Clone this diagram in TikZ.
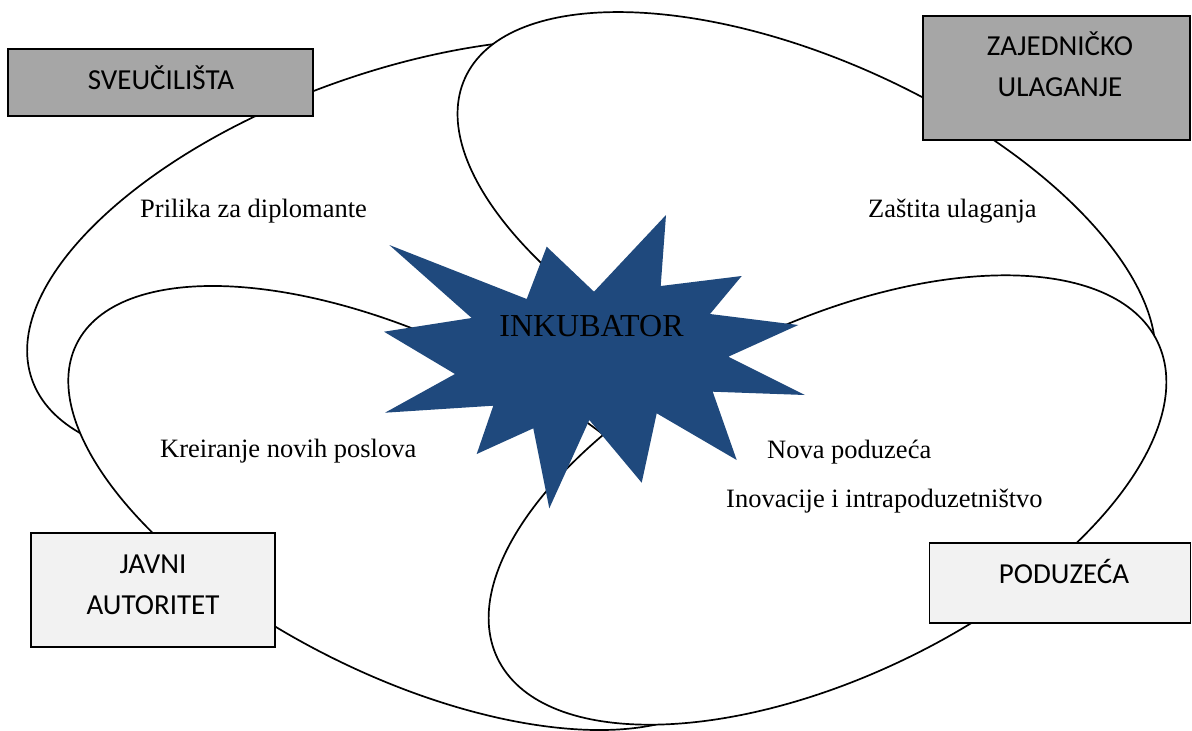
\documentclass[tikz,border=0pt]{standalone}
\usepackage{fontspec}
\setmainfont{Liberation Serif}
\newfontfamily\boxfont{Carlito}
\definecolor{starblue}{RGB}{31,73,125}
\definecolor{darkgraybox}{RGB}{166,166,166}
\definecolor{lightgraybox}{RGB}{242,242,242}
\begin{document}
\begin{tikzpicture}[x=1pt,y=-1pt,
  petal/.style={draw=black, line width=1.7pt, fill=white},
  boxnode/.style={draw=black, line width=1.7pt, inner sep=0pt},
  boxtext/.style={font=\boxfont\fontsize{29}{35}\selectfont, inner sep=0pt, anchor=base},
  lbl/.style={font=\fontsize{26.5}{32}\selectfont, inner sep=0pt, anchor=base west},
  startext/.style={font=\fontsize{32}{38}\selectfont, inner sep=0pt, anchor=base}]
\useasboundingbox (0,0) rectangle (1192,731);
\clip (0,0) rectangle (1192,731);
\fill[white] (0,0) rectangle (1192,731);
% petals (bottom to top)
\path[petal, rotate around={19.4:(397,251)}] (397,251) ellipse [x radius=387pt, y radius=179pt];
\path[petal, rotate around={-24.4:(806.5,233)}] (806.5,233) ellipse [x radius=375pt, y radius=173pt];
\path[petal, rotate around={-26.5:(406,508)}] (406,508) ellipse [x radius=368pt, y radius=167pt];
\path[petal, rotate around={25.6:(827.5,500)}] (827.5,500) ellipse [x radius=366pt, y radius=177pt];
% star
\fill[starblue] (666,215) -- (660.7,286) -- (741.7,276) -- (710,314) -- (798.3,325)
  -- (728.3,356.7) -- (805,395) -- (712.7,391.7) -- (736.7,460) -- (656.7,413.3)
  -- (641.7,482.7) -- (589.3,420) -- (549.3,508.3) -- (533.3,428.3) -- (476.7,454)
  -- (493.3,405.7) -- (385,412.7) -- (455,374) -- (384,331.7) -- (471.7,318)
  -- (389.3,245) -- (526.7,299) -- (546.7,246.7) -- (594,291.7) -- cycle;
\node[startext] (ink) at (591.5,336) {INKUBATOR};
% boxes
\node[boxnode, fill=darkgraybox, minimum width=305pt, minimum height=67pt] (sveu) at (160.5,82.5) {};
\node[boxtext] (sveutxt) at (161,89) {SVEUČILIŠTA};
\node[boxnode, fill=darkgraybox, minimum width=267pt, minimum height=124pt] (zaj) at (1056.5,78) {};
\node[boxtext] (zaj1) at (1060,55) {ZAJEDNIČKO};
\node[boxtext] (zaj2) at (1060,96) {ULAGANJE};
\node[boxnode, fill=lightgraybox, minimum width=244pt, minimum height=114pt] (javni) at (153,590) {};
\node[boxtext] (javni1) at (153,573) {JAVNI};
\node[boxtext] (javni2) at (153,614) {AUTORITET};
\node[boxnode, fill=lightgraybox, minimum width=261pt, minimum height=80pt] (podu) at (1060,583) {};
\node[boxtext] (podutxt) at (1064,583) {PODUZEĆA};
% labels
\node[lbl] (prilika) at (140,217) {Prilika za diplomante};
\node[lbl] (zastita) at (868,217) {Zaštita ulaganja};
\node[lbl] (kreiranje) at (160,457) {Kreiranje novih poslova};
\node[lbl] (nova) at (767,458) {Nova poduzeća};
\node[lbl] (inovacije) at (726,507) {Inovacije i intrapoduzetništvo};
\end{tikzpicture}
\end{document}
